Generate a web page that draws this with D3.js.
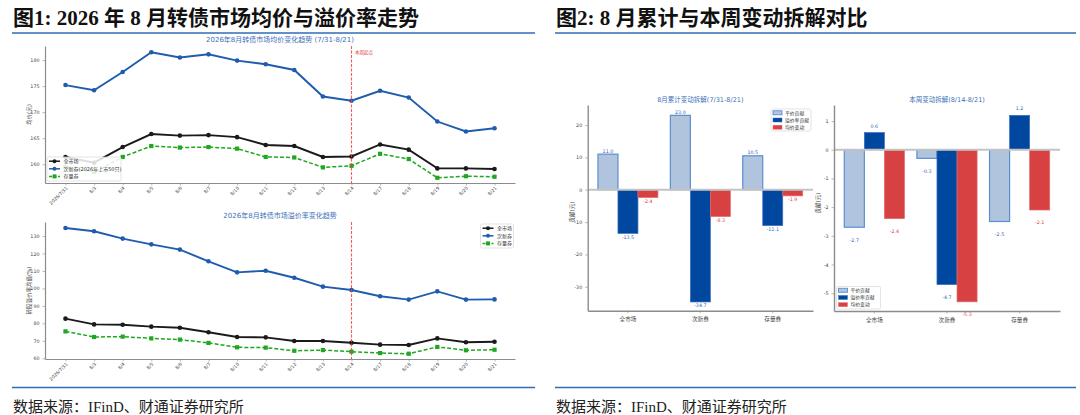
<!DOCTYPE html>
<html>
<head>
<meta charset="utf-8">
<script src="https://cdn.jsdelivr.net/npm/d3@7"></script>
<style>
  body { margin: 0; background: #fff; }
  svg { display: block; }
</style>
</head>
<body>
<svg id="chart" width="1080" height="415"></svg>
<script>
// ---- data ----
const dates = ["2026/7/31", "8/3", "8/4", "8/5", "8/6", "8/7", "8/10", "8/11",
  "8/12", "8/13", "8/14", "8/17", "8/18", "8/19", "8/20", "8/21"];
const priceAll   = [161.4, 160.3, 163.3, 165.8, 165.5, 165.6, 165.2, 163.7, 163.5, 161.4, 161.5, 163.8, 162.8, 159.2, 159.2, 159.1];
const priceNew   = [175.2, 174.2, 177.7, 181.5, 180.5, 181.1, 179.9, 179.2, 178.1, 173.0, 172.2, 174.1, 172.8, 168.2, 166.3, 166.9];
const priceStock = [159.5, 158.5, 161.4, 163.5, 163.2, 163.3, 163.0, 161.4, 161.3, 159.4, 159.7, 162.0, 161.0, 157.4, 157.7, 157.6];
const premAll    = [82.7, 79.4, 79.2, 78.1, 77.5, 74.9, 72.2, 72.0, 69.9, 69.9, 68.9, 67.8, 67.6, 71.4, 69.2, 69.5];
const premNew    = [134.6, 132.7, 128.5, 125.2, 122.2, 115.5, 109.2, 110.1, 106.1, 101.0, 99.1, 95.5, 93.6, 98.3, 93.6, 93.7];
const premStock  = [75.4, 72.2, 72.4, 71.4, 70.7, 68.8, 66.3, 66.1, 64.3, 64.7, 63.8, 63.0, 62.6, 66.5, 64.6, 64.9];
const lineNames = ["全市场", "次新券(2026年上市50只)", "存量券"];
const lineNames2 = ["全市场", "次新券", "存量券"];
const weekStart = "8/14";

const barCats = ["全市场", "次新券", "存量券"];
const barKeys = ["平价贡献", "溢价率贡献", "均价变动"];
const cumParity  = [11.0, 23.0, 10.5];
const cumPremium = [-13.5, -34.7, -11.1];
const cumPrice   = [-2.4, -8.3, -1.9];
const wkParity   = [-2.7, -0.3, -2.5];
const wkPremium  = [0.6, -4.7, 1.2];
const wkPrice    = [-2.4, -5.3, -2.1];

// ---- styles ----
const font = "'DejaVu Sans', 'Noto Sans CJK SC', sans-serif";
const titleFont = "'Liberation Serif', 'Noto Sans CJK SC', serif";
const ruleColor = "#2f6db5";
const subTitleColor = "#3a6fb7";
const axisColor = "#8c8c8c";
const lineColors = ["#1a1a1a", "#1f5cae", "#1fa81f"];
const barFill = ["#b0c4de", "#0047a0", "#d84141"];
const barStroke = ["#5b8fd0", "#3b6fbf", "#e56a6a"];
const barLabelColor = ["#2f63b0", "#2f63b0", "#d84141"];

// plain hyphen minus like the source figure
const fmt1 = v => d3.format(".1f")(v).replace("\u2212", "-");
const fmtInt = v => d3.format("d")(v).replace("\u2212", "-");

const svg = d3.select("#chart");

// ---- page frame ----
svg.append("text").attr("x", 13).attr("y", 25)
  .attr("font-family", titleFont).attr("font-weight", "bold").attr("font-size", 21)
  .attr("fill", "#111").text("图1: 2026 年 8 月转债市场均价与溢价率走势");
svg.append("text").attr("x", 556).attr("y", 25)
  .attr("font-family", titleFont).attr("font-weight", "bold").attr("font-size", 21)
  .attr("fill", "#111").text("图2: 8 月累计与本周变动拆解对比");
[[12, 535], [555, 1076]].forEach(([a, b]) => {
  svg.append("line").attr("x1", a).attr("x2", b).attr("y1", 33).attr("y2", 33)
    .attr("stroke", ruleColor).attr("stroke-width", 1.6);
  svg.append("line").attr("x1", a).attr("x2", b).attr("y1", 387.5).attr("y2", 387.5)
    .attr("stroke", ruleColor).attr("stroke-width", 1.6);
  svg.append("text").attr("x", a + 1).attr("y", 412)
    .attr("font-family", titleFont).attr("font-size", 15).attr("fill", "#222")
    .text("数据来源：IFinD、财通证券研究所");
});

function styleAxis(g, fontSize) {
  g.select(".domain").attr("stroke", axisColor).attr("stroke-width", 1.2);
  g.selectAll(".tick line").attr("stroke", axisColor).attr("stroke-width", 0.6);
  g.selectAll(".tick text").attr("font-family", font).attr("font-size", fontSize).attr("fill", "#444");
}

// ---- line charts ----
function lineChart(cfg) {
  const x = d3.scalePoint().domain(dates).range([45, 515]).padding(0.716);
  const y = d3.scaleLinear().domain(cfg.ydomain).range([cfg.bottom, cfg.top]);
  const g = svg.append("g");

  const xAxis = g.append("g").attr("transform", `translate(0,${cfg.bottom})`)
    .call(d3.axisBottom(x).tickSize(2.5).tickSizeOuter(0));
  styleAxis(xAxis, 4.6);
  xAxis.selectAll(".tick text")
    .attr("text-anchor", "end").attr("dy", 0).attr("y", 0)
    .attr("transform", "translate(2,5.5) rotate(-45)");

  const yAxis = g.append("g").attr("transform", "translate(45,0)")
    .call(d3.axisLeft(y).tickValues(cfg.yticks).tickSize(2.5).tickSizeOuter(0));
  styleAxis(yAxis, 4.8);

  g.append("text").attr("transform", `translate(31,${(cfg.top + cfg.bottom) / 2}) rotate(-90)`)
    .attr("text-anchor", "middle").attr("font-family", font).attr("font-size", 5.5)
    .attr("fill", "#444").text(cfg.ylabel);

  g.append("text").attr("x", 280).attr("y", cfg.top - 4).attr("text-anchor", "middle")
    .attr("font-family", font).attr("font-size", 7).attr("fill", subTitleColor).text(cfg.title);

  const line = d3.line().x((d, i) => x(dates[i])).y(d => y(d));
  cfg.series.forEach((s, k) => {
    g.append("path").attr("d", line(s)).attr("fill", "none")
      .attr("stroke", lineColors[k]).attr("stroke-width", k === 2 ? 1.5 : 1.9)
      .attr("stroke-dasharray", k === 2 ? "4,2" : null);
    const pts = g.append("g").selectAll("g").data(s).enter();
    if (k === 2) {
      pts.append("rect").attr("x", (d, i) => x(dates[i]) - 2.1).attr("y", d => y(d) - 2.1)
        .attr("width", 4.2).attr("height", 4.2).attr("fill", lineColors[k]);
    } else {
      pts.append("circle").attr("cx", (d, i) => x(dates[i])).attr("cy", d => y(d))
        .attr("r", 2.3).attr("fill", lineColors[k]);
    }
  });

  // week start marker, drawn over the lines
  g.append("line").attr("x1", x(weekStart)).attr("x2", x(weekStart))
    .attr("y1", cfg.top).attr("y2", cfg.bottom)
    .attr("stroke", "#ff3b3b").attr("stroke-opacity", 0.85).attr("stroke-width", 1.1)
    .attr("stroke-dasharray", "3,1.5");
  if (cfg.note) {
    g.append("text").attr("x", x(weekStart) + 3.5).attr("y", cfg.top + 8)
      .attr("font-family", font).attr("font-size", 4.5).attr("fill", "#e03030").text(cfg.note);
  }

  // legend
  const L = cfg.legend;
  const lg = g.append("g");
  lg.append("rect").attr("x", L.x).attr("y", L.y).attr("width", L.w).attr("height", L.h)
    .attr("rx", 1.5).attr("fill", "#fff").attr("fill-opacity", 0.85)
    .attr("stroke", "#d0d0d0").attr("stroke-width", 0.6);
  cfg.names.forEach((n, k) => {
    const ry = L.y + 4.2 + k * 7.6;
    lg.append("line").attr("x1", L.x + 2).attr("x2", L.x + 13).attr("y1", ry).attr("y2", ry)
      .attr("stroke", lineColors[k]).attr("stroke-width", 1.5)
      .attr("stroke-dasharray", k === 2 ? "3,1.5" : null);
    if (k === 2) {
      lg.append("rect").attr("x", L.x + 5.5).attr("y", ry - 2).attr("width", 4).attr("height", 4)
        .attr("fill", lineColors[k]);
    } else {
      lg.append("circle").attr("cx", L.x + 7.5).attr("cy", ry).attr("r", 2).attr("fill", lineColors[k]);
    }
    lg.append("text").attr("x", L.x + 16.5).attr("y", ry + 1.8)
      .attr("font-family", font).attr("font-size", 5).attr("fill", "#333").text(n);
  });
}

lineChart({
  title: "2026年8月转债市场均价变化趋势 (7/31-8/21)",
  ylabel: "均价(元)", ydomain: [156.4, 182.7], yticks: [160, 165, 170, 175, 180],
  top: 46, bottom: 183, note: "本周起点",
  series: [priceAll, priceNew, priceStock], names: lineNames,
  legend: { x: 47, y: 157, w: 74, h: 24 }
});
lineChart({
  title: "2026年8月转债市场溢价率变化趋势",
  ylabel: "转股溢价率均值(%)", ydomain: [59.6, 138], yticks: d3.range(60, 131, 10),
  top: 222, bottom: 359,
  series: [premAll, premNew, premStock], names: lineNames2,
  legend: { x: 480.5, y: 224, w: 33, h: 24 }
});

// ---- bar charts ----
function barChart(cfg) {
  const x0 = d3.scaleBand().domain(barCats).range([cfg.left, cfg.right])
    .paddingInner(0).paddingOuter(0.056);
  const x1 = d3.scaleBand().domain(barKeys).range([0, x0.bandwidth()])
    .paddingInner(0).paddingOuter(0.31);
  const y = d3.scaleLinear().domain(cfg.ydomain).range([cfg.bottom, cfg.top]);
  const g = svg.append("g");

  g.append("text").attr("x", (cfg.left + cfg.right) / 2).attr("y", cfg.top - 3)
    .attr("text-anchor", "middle").attr("font-family", font).attr("font-size", 6.5)
    .attr("fill", subTitleColor).text(cfg.title);

  g.append("text").attr("transform", `translate(${cfg.left - 14},${cfg.ylabelY}) rotate(-90)`)
    .attr("text-anchor", "middle").attr("font-family", font).attr("font-size", 5.5)
    .attr("fill", "#444").text("贡献(元)");

  const series = cfg.series;
  barKeys.forEach((key, k) => {
    const bars = g.append("g").selectAll("rect").data(series[k]).enter();
    bars.append("rect")
      .attr("x", (d, i) => x0(barCats[i]) + x1(key))
      .attr("y", d => y(Math.max(0, d)))
      .attr("width", x1.bandwidth())
      .attr("height", d => Math.abs(y(d) - y(0)))
      .attr("fill", barFill[k]).attr("stroke", barStroke[k])
      .attr("stroke-width", k === 0 ? 1.2 : 0.7);
  });

  // zero line
  g.append("line").attr("x1", cfg.left).attr("x2", cfg.right).attr("y1", y(0)).attr("y2", y(0))
    .attr("stroke", "#c4c4c4").attr("stroke-width", 1.8);

  // value labels
  barKeys.forEach((key, k) => {
    g.append("g").selectAll("text").data(series[k]).enter().append("text")
      .attr("x", (d, i) => x0(barCats[i]) + x1(key) + x1.bandwidth() / 2)
      .attr("y", d => cfg.labelY(y, d))
      .attr("text-anchor", "middle").attr("font-family", font).attr("font-size", 4.8)
      .attr("fill", barLabelColor[k]).text(d => fmt1(d));
  });

  const xAxis = g.append("g").attr("transform", `translate(0,${cfg.bottom})`)
    .call(d3.axisBottom(x0).tickSize(2.5).tickSizeOuter(0));
  styleAxis(xAxis, 5.6);
  xAxis.select(".domain").attr("stroke-width", 1.4);
  xAxis.selectAll(".tick text").attr("dy", "0.9em");

  const yAxis = g.append("g").attr("transform", `translate(${cfg.left},0)`)
    .call(d3.axisLeft(y).tickValues(cfg.yticks).tickSize(2.5).tickSizeOuter(0)
      .tickFormat(fmtInt));
  styleAxis(yAxis, 4.8);
  yAxis.select(".domain").attr("stroke-width", 1.4);

  // legend
  const L = cfg.legend;
  const lg = g.append("g");
  lg.append("rect").attr("x", L.x).attr("y", L.y).attr("width", L.w).attr("height", L.h)
    .attr("rx", 1.5).attr("fill", "#fff").attr("fill-opacity", 0.85)
    .attr("stroke", "#d0d0d0").attr("stroke-width", 0.6);
  barKeys.forEach((key, k) => {
    const ry = L.y + 3.8 + k * 7.2;
    lg.append("rect").attr("x", L.x + 2).attr("y", ry - 2).attr("width", 9).attr("height", 4)
      .attr("fill", barFill[k]).attr("stroke", barStroke[k]).attr("stroke-width", k === 0 ? 0.9 : 0.5);
    lg.append("text").attr("x", L.x + 14).attr("y", ry + 1.7)
      .attr("font-family", font).attr("font-size", 4.8).attr("fill", "#333").text(key);
  });
}

barChart({
  title: "8月累计变动拆解(7/31-8/21)",
  left: 587.7, right: 813, top: 105, bottom: 310.7, ydomain: [-37.4, 26.2],
  yticks: [-30, -20, -10, 0, 10, 20], ylabelY: 212,
  series: [cumParity, cumPremium, cumPrice],
  labelY: (y, d) => d >= 0 ? y(d) - 1.6 : y(d) + 5.4,
  legend: { x: 771, y: 109, w: 40, h: 22 }
});
barChart({
  title: "本周变动拆解(8/14-8/21)",
  left: 834, right: 1060, top: 105, bottom: 311, ydomain: [-5.62, 1.56],
  yticks: [-5, -4, -3, -2, -1, 0, 1], ylabelY: 203,
  series: [wkParity, wkPremium, wkPrice],
  labelY: (y, d) => d >= 0 ? y(d + 0.23) + 1.7 : y(d - 0.44) + 1.7,
  legend: { x: 836.5, y: 286.5, w: 44, h: 22.5 }
});
</script>
</body>
</html>
